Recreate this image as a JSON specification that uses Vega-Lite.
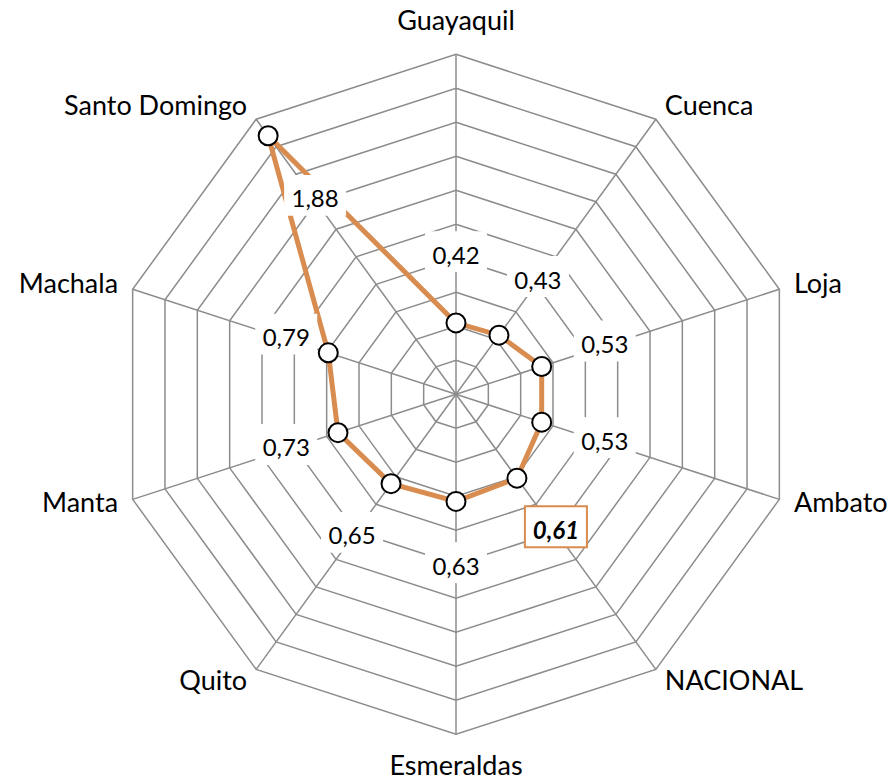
{
  "$schema": "https://vega.github.io/schema/vega-lite/v6.json",
  "width": 889,
  "height": 780,
  "autosize": "none",
  "padding": 0,
  "background": "white",
  "config": {"view": {"stroke": null}},
  "datasets": {
    "cities": [
      {"city": "Guayaquil", "value": 0.42},
      {"city": "Cuenca", "value": 0.43},
      {"city": "Loja", "value": 0.53},
      {"city": "Ambato", "value": 0.53},
      {"city": "NACIONAL", "value": 0.61},
      {"city": "Esmeraldas", "value": 0.63},
      {"city": "Quito", "value": 0.65},
      {"city": "Manta", "value": 0.73},
      {"city": "Machala", "value": 0.79},
      {"city": "Santo Domingo", "value": 1.88}
    ],
    "rings": [
      {"ring": 0.2, "k": [0,1,2,3,4,5,6,7,8,9]},
      {"ring": 0.4, "k": [0,1,2,3,4,5,6,7,8,9]},
      {"ring": 0.6, "k": [0,1,2,3,4,5,6,7,8,9]},
      {"ring": 0.8, "k": [0,1,2,3,4,5,6,7,8,9]},
      {"ring": 1.0, "k": [0,1,2,3,4,5,6,7,8,9]},
      {"ring": 1.2, "k": [0,1,2,3,4,5,6,7,8,9]},
      {"ring": 1.4, "k": [0,1,2,3,4,5,6,7,8,9]},
      {"ring": 1.6, "k": [0,1,2,3,4,5,6,7,8,9]},
      {"ring": 1.8, "k": [0,1,2,3,4,5,6,7,8,9]},
      {"ring": 2.0, "k": [0,1,2,3,4,5,6,7,8,9]}
    ]
  },
  "layer": [
    {
      "data": {"name": "rings"},
      "transform": [
        {"flatten": ["k"]},
        {"calculate": "datum.ring * sin(datum.k * PI / 5)", "as": "gx"},
        {"calculate": "datum.ring * cos(datum.k * PI / 5)", "as": "gy"}
      ],
      "mark": {"type": "line", "interpolate": "linear-closed", "color": "#8c8c8c", "strokeWidth": 1.5},
      "encoding": {
        "x": {"field": "gx", "type": "quantitative", "scale": {"domain": [-2.6824, 2.5471], "nice": false, "zero": false}, "axis": null},
        "y": {"field": "gy", "type": "quantitative", "scale": {"domain": [-2.2688, 2.3194], "nice": false, "zero": false}, "axis": null},
        "detail": {"field": "ring", "type": "nominal"},
        "order": {"field": "k", "type": "quantitative"}
      }
    },
    {
      "data": {"name": "cities"},
      "transform": [
        {"window": [{"op": "row_number", "as": "rn"}]},
        {"calculate": "(datum.rn - 1) * PI / 5", "as": "ang"},
        {"calculate": "sin(datum.ang)", "as": "s"},
        {"calculate": "cos(datum.ang)", "as": "c"},
        {"calculate": "0", "as": "z"},
        {"calculate": "datum.value * datum.s", "as": "px"},
        {"calculate": "datum.value * datum.c", "as": "py"},
        {"calculate": "2 * datum.s", "as": "ox"},
        {"calculate": "2 * datum.c", "as": "oy"},
        {"calculate": "datum.value > 1.5 ? datum.value - 0.47 : min(datum.value + 0.39, 1.05)", "as": "lr"},
        {"calculate": "datum.lr * datum.s", "as": "lx"},
        {"calculate": "datum.lr * datum.c", "as": "ly"},
        {"calculate": "abs(datum.s) < 0.1 ? 2.19 : 2.09", "as": "cr"},
        {"calculate": "datum.cr * datum.s", "as": "cx"},
        {"calculate": "datum.cr * datum.c", "as": "cy"},
        {"calculate": "replace(format(datum.value, '.2f'), '.', ',')", "as": "label"}
      ],
      "layer": [
        {
          "mark": {"type": "rule", "color": "#8c8c8c", "strokeWidth": 1.5},
          "encoding": {
            "x": {"field": "z", "type": "quantitative", "axis": null},
            "y": {"field": "z", "type": "quantitative", "axis": null},
            "x2": {"field": "ox"},
            "y2": {"field": "oy"}
          }
        },
        {
          "mark": {"type": "line", "interpolate": "linear-closed", "color": "#D98C4F", "strokeWidth": 5},
          "encoding": {
            "x": {"field": "px", "type": "quantitative", "axis": null},
            "y": {"field": "py", "type": "quantitative", "axis": null},
            "order": {"field": "rn", "type": "quantitative"}
          }
        },
        {
          "mark": {"type": "point", "shape": "circle", "filled": true, "fill": "white", "stroke": "black", "strokeWidth": 2, "size": 361, "opacity": 1},
          "encoding": {
            "x": {"field": "px", "type": "quantitative", "axis": null},
            "y": {"field": "py", "type": "quantitative", "axis": null}
          }
        },
        {
          "mark": {"type": "point", "shape": "M-1,-0.66H1V0.66H-1Z", "filled": true, "fill": "white", "strokeWidth": 2, "size": 3844, "opacity": 1, "yOffset": -5},
          "encoding": {
            "x": {"field": "lx", "type": "quantitative", "axis": null},
            "y": {"field": "ly", "type": "quantitative", "axis": null},
            "stroke": {"condition": {"test": "datum.city === 'NACIONAL'", "value": "#D98C4F"}, "value": "transparent"}
          }
        },
        {
          "transform": [{"filter": "datum.city !== 'NACIONAL'"}],
          "mark": {"type": "text", "font": "Lato", "fontSize": 24, "color": "black", "baseline": "middle", "align": "center"},
          "encoding": {
            "x": {"field": "lx", "type": "quantitative", "axis": null},
            "y": {"field": "ly", "type": "quantitative", "axis": null},
            "text": {"field": "label", "type": "nominal"}
          }
        },
        {
          "transform": [{"filter": "datum.city === 'NACIONAL'"}],
          "mark": {"type": "text", "font": "Lato", "fontSize": 24, "fontWeight": "bold", "fontStyle": "italic", "color": "black", "baseline": "middle", "align": "center"},
          "encoding": {
            "x": {"field": "lx", "type": "quantitative", "axis": null},
            "y": {"field": "ly", "type": "quantitative", "axis": null},
            "text": {"field": "label", "type": "nominal"}
          }
        },
        {
          "transform": [{"filter": "datum.s > 0.1"}],
          "mark": {"type": "text", "font": "Lato", "fontSize": 27, "color": "black", "baseline": "middle", "align": "left"},
          "encoding": {
            "x": {"field": "cx", "type": "quantitative", "axis": null},
            "y": {"field": "cy", "type": "quantitative", "axis": null},
            "text": {"field": "city", "type": "nominal"}
          }
        },
        {
          "transform": [{"filter": "datum.s < -0.1"}],
          "mark": {"type": "text", "font": "Lato", "fontSize": 27, "color": "black", "baseline": "middle", "align": "right"},
          "encoding": {
            "x": {"field": "cx", "type": "quantitative", "axis": null},
            "y": {"field": "cy", "type": "quantitative", "axis": null},
            "text": {"field": "city", "type": "nominal"}
          }
        },
        {
          "transform": [{"filter": "abs(datum.s) <= 0.1"}],
          "mark": {"type": "text", "font": "Lato", "fontSize": 27, "color": "black", "baseline": "middle", "align": "center"},
          "encoding": {
            "x": {"field": "cx", "type": "quantitative", "axis": null},
            "y": {"field": "cy", "type": "quantitative", "axis": null},
            "text": {"field": "city", "type": "nominal"}
          }
        }
      ]
    }
  ]
}
